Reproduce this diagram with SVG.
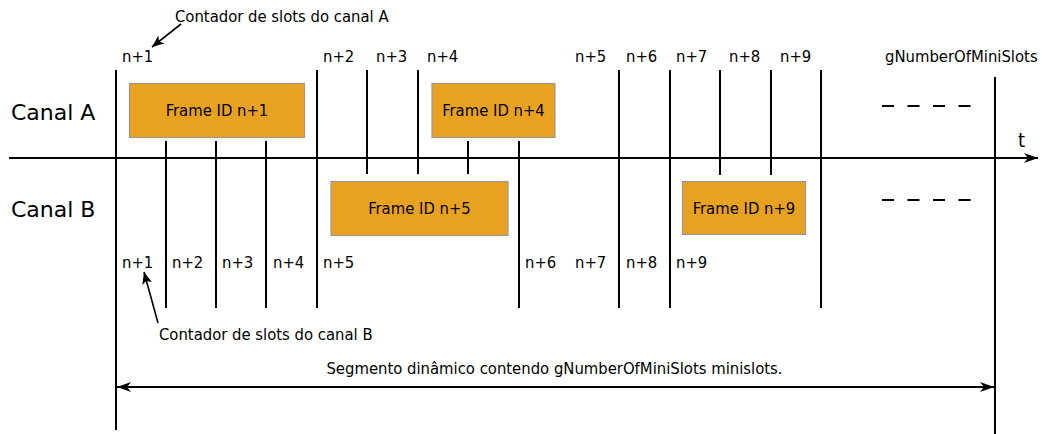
<svg xmlns="http://www.w3.org/2000/svg" width="1042" height="434" viewBox="0 0 1042 434">
  <style>
    text { font-family: "DejaVu Sans Condensed", "DejaVu Sans", Verdana, sans-serif; fill: #000; }
    .lbl { font-size: 16.5px; }
    .chan { font-family: "DejaVu Sans", Verdana, sans-serif; font-size: 22px; }
    .frame rect { fill: #E8A21F; stroke: #999999; stroke-width: 1.2; }
    .frame text { font-size: 16.5px; text-anchor: middle; }
    .slot { stroke: #000; stroke-width: 2; fill: none; }
    .thin { stroke: #000; stroke-width: 1.6; fill: none; }
    .dash { stroke: #000; stroke-width: 2; stroke-dasharray: 12 13.5; fill: none; }
  </style>
  <defs>
    <marker id="barb" viewBox="0 0 14 10" refX="14" refY="5" markerWidth="14" markerHeight="10" markerUnits="userSpaceOnUse" orient="auto-start-reverse">
      <path d="M0,0 L14,5 L0,10 L4,5 Z" fill="#000"/>
    </marker>
    <marker id="barbS" viewBox="0 0 12 10" refX="12" refY="5" markerWidth="12" markerHeight="10" markerUnits="userSpaceOnUse" orient="auto">
      <path d="M0,0 L12,5 L0,10 L3,5 Z" fill="#000"/>
    </marker>
  </defs>

  <rect width="1042" height="434" fill="#fff"/>

  <!-- channel labels -->
  <g id="label-canal-a"><text class="chan" x="11" y="120">Canal A</text></g>
  <g id="label-canal-b"><text class="chan" x="11" y="217">Canal B</text></g>

  <!-- slot boundaries and time axis -->
  <g id="connectors">
    <!-- time axis -->
    <line class="slot" x1="9" y1="158" x2="1038" y2="158" marker-end="url(#barb)"/>

    <!-- segment boundaries -->
    <line class="slot" x1="116" y1="70" x2="116" y2="430"/>
    <line class="slot" x1="995" y1="77" x2="995" y2="434"/>

    <!-- lines spanning both channels -->
    <line class="slot" x1="317" y1="70" x2="317" y2="308"/>
    <line class="slot" x1="619" y1="70" x2="619" y2="308"/>
    <line class="slot" x1="670" y1="70" x2="670" y2="308"/>
    <line class="slot" x1="821" y1="70" x2="821" y2="308"/>

    <!-- channel A boundaries crossing into B -->
    <line class="slot" x1="367" y1="70" x2="367" y2="174"/>
    <line class="slot" x1="418" y1="70" x2="418" y2="174"/>
    <line class="slot" x1="720" y1="70" x2="720" y2="175"/>
    <line class="slot" x1="771" y1="70" x2="771" y2="175"/>

    <!-- lines below frame n+1 -->
    <line class="slot" x1="166" y1="141" x2="166" y2="308"/>
    <line class="slot" x1="216" y1="141" x2="216" y2="308"/>
    <line class="slot" x1="266" y1="141" x2="266" y2="308"/>

    <!-- lines below frame n+4 -->
    <line class="slot" x1="468" y1="141" x2="468" y2="174"/>
    <line class="slot" x1="519" y1="141" x2="519" y2="308"/>

    <!-- continuation dashes -->
    <line class="dash" x1="882" y1="106" x2="971" y2="106"/>
    <line class="dash" x1="882" y1="200" x2="971" y2="200"/>

    <!-- counter annotations -->
    <line class="thin" x1="181" y1="24" x2="152" y2="47" marker-end="url(#barbS)"/>
    <line class="thin" x1="158" y1="323" x2="144" y2="272" marker-end="url(#barbS)"/>

    <!-- dynamic segment dimension -->
    <line class="slot" x1="117" y1="387" x2="994" y2="387" marker-start="url(#barb)" marker-end="url(#barb)"/>
  </g>

  <!-- frames -->
  <g id="frame-n1" class="frame">
    <rect x="129.5" y="83.5" width="175" height="54"/>
    <text x="217" y="116">Frame ID n+1</text>
  </g>
  <g id="frame-n4" class="frame">
    <rect x="432" y="83.5" width="123" height="54"/>
    <text x="493.5" y="116">Frame ID n+4</text>
  </g>
  <g id="frame-n5" class="frame">
    <rect x="331" y="181.5" width="177" height="54"/>
    <text x="419.5" y="214">Frame ID n+5</text>
  </g>
  <g id="frame-n9" class="frame">
    <rect x="682.5" y="181.5" width="123" height="53"/>
    <text x="744" y="214">Frame ID n+9</text>
  </g>

  <!-- channel A slot counters -->
  <g id="counters-a" class="lbl">
    <text x="122" y="62">n+1</text>
    <text x="323" y="62">n+2</text>
    <text x="376" y="62">n+3</text>
    <text x="427" y="62">n+4</text>
    <text x="575" y="62">n+5</text>
    <text x="626" y="62">n+6</text>
    <text x="676" y="62">n+7</text>
    <text x="729" y="62">n+8</text>
    <text x="780" y="62">n+9</text>
    <text x="885" y="62">gNumberOfMiniSlots</text>
  </g>

  <!-- channel B slot counters -->
  <g id="counters-b" class="lbl">
    <text x="122" y="268">n+1</text>
    <text x="172" y="268">n+2</text>
    <text x="222" y="268">n+3</text>
    <text x="273" y="268">n+4</text>
    <text x="323" y="268">n+5</text>
    <text x="525" y="268">n+6</text>
    <text x="575" y="268">n+7</text>
    <text x="626" y="268">n+8</text>
    <text x="676" y="268">n+9</text>
  </g>

  <g id="axis-label"><text x="1018" y="147" font-family="DejaVu Sans, sans-serif" font-size="20">t</text></g>

  <g id="note-a"><text class="lbl" x="175" y="22">Contador de slots do canal A</text></g>
  <g id="note-b"><text class="lbl" x="159" y="340">Contador de slots do canal B</text></g>
  <g id="segment-label"><text class="lbl" x="554.5" y="374" text-anchor="middle">Segmento dinâmico contendo gNumberOfMiniSlots minislots.</text></g>
</svg>
